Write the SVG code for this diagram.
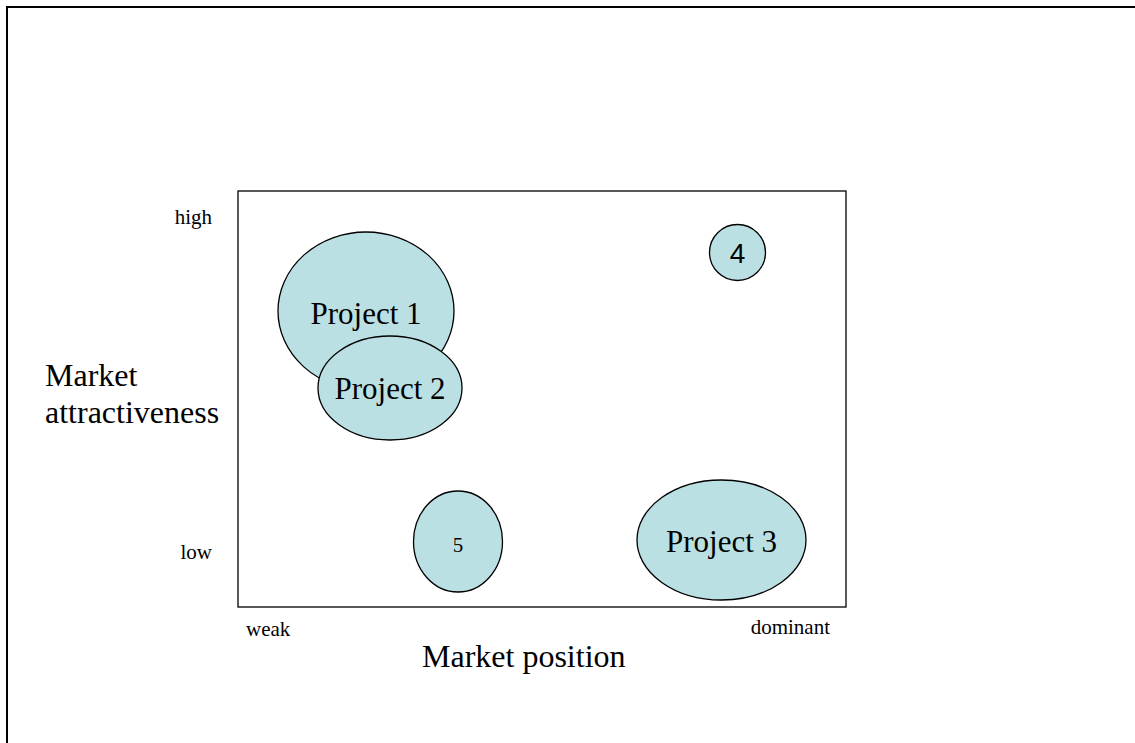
<svg xmlns="http://www.w3.org/2000/svg" width="1135" height="743" viewBox="0 0 1135 743">
<style>
.bub{fill:#bbe0e3;stroke:#000;stroke-width:1.3}
.t{font-family:"Liberation Serif","Times New Roman",serif;fill:#000}
.big{font-size:31px}
.ax{font-size:32px}
.sm{font-size:21px}
</style>
<rect width="1135" height="743" fill="#fff"/>
<path d="M7 743 V7 H1135" fill="none" stroke="#000" stroke-width="2"/>
<rect id="plot" x="238" y="191" width="608" height="416" fill="none" stroke="#000" stroke-width="1.3"/>
<g id="axis-labels">
<text class="t sm" x="212" y="224" text-anchor="end">high</text>
<text class="t sm" x="212" y="559" text-anchor="end">low</text>
<text class="t sm" x="246" y="636">weak</text>
<text class="t sm" x="830" y="634" text-anchor="end">dominant</text>
<text class="t ax" x="422" y="667">Market position</text>
<text class="t ax" x="45" y="386">Market</text>
<text class="t ax" x="45" y="423">attractiveness</text>
</g>
<g id="project1">
<ellipse class="bub" cx="366" cy="311" rx="88" ry="79"/>
<text class="t big" x="366" y="324" text-anchor="middle">Project 1</text>
</g>
<g id="project2">
<ellipse class="bub" cx="390" cy="388" rx="72" ry="52"/>
<text class="t big" x="390" y="399" text-anchor="middle">Project 2</text>
</g>
<g id="project4">
<ellipse class="bub" cx="737.5" cy="252.5" rx="28" ry="28"/>
<text x="737.5" y="263" text-anchor="middle" font-family="Liberation Sans,Arial,sans-serif" font-size="28">4</text>
</g>
<g id="project5">
<ellipse class="bub" cx="458" cy="541.5" rx="44.5" ry="50.5"/>
<text class="t sm" x="458" y="552" text-anchor="middle">5</text>
</g>
<g id="project3">
<ellipse class="bub" cx="721.5" cy="540" rx="84.5" ry="60"/>
<text class="t big" x="721.5" y="552" text-anchor="middle">Project 3</text>
</g>
<g id="connectors"/>
</svg>
